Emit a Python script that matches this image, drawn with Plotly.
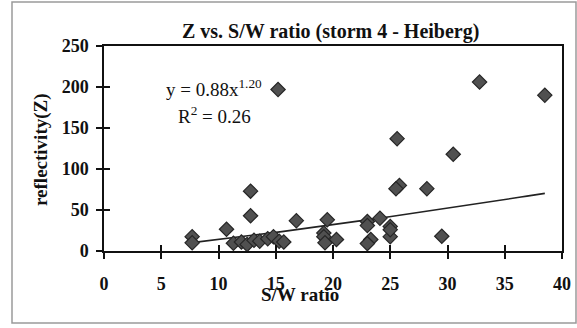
import plotly.graph_objects as go
import numpy as np

sw_ratio = [7.7, 7.7, 10.7, 12.8, 12.8, 15.2, 11.3, 12.0, 12.5, 13.1, 13.6, 14.3, 14.8, 15.3, 15.7,
            16.8, 19.5, 19.2, 19.2, 19.3, 20.3, 23.0, 23.0, 23.3, 23.0, 24.1, 25.0, 25.0, 25.0,
            25.6, 25.8, 25.5, 28.2, 29.5, 30.5, 32.8, 38.5]
reflectivity = [17.5, 10, 26.5, 73, 43, 197, 9.5, 11, 8, 13, 12, 15, 17.5, 12, 11,
                37, 38, 22, 17.5, 10, 14, 36, 31, 14, 9, 40, 30, 17.5, 26,
                137, 80, 76, 76, 18, 118, 206, 190]
fit_a = 0.88
fit_b = 1.20
fit_range = [7.7, 38.5]
x_ticks = [0, 5, 10, 15, 20, 25, 30, 35, 40]
y_ticks = [0, 50, 100, 150, 200, 250]

xf = np.linspace(fit_range[0], fit_range[1], 60)
yf = fit_a * xf ** fit_b

serif = "Liberation Serif, Times New Roman, serif"
ink = "#111111"
fig = go.Figure()
fig.add_trace(go.Scatter(x=xf, y=yf, mode="lines", line=dict(color="#222", width=1.6),
                         showlegend=False, hoverinfo="skip"))
fig.add_trace(go.Scatter(x=sw_ratio, y=reflectivity, mode="markers",
                         marker=dict(symbol="diamond", size=11, color="#505050",
                                     line=dict(color="#262626", width=1.2)),
                         showlegend=False))

axis_common = dict(showgrid=False, zeroline=False, linecolor=ink, linewidth=1.5,
                   ticks="outside", ticklen=6, tickwidth=1.5, tickcolor=ink, mirror=True,
                   automargin=False,
                   tickfont=dict(family=serif, size=18, color=ink, weight="bold"))
fig.update_layout(
    width=577, height=328, autosize=False, plot_bgcolor="white", paper_bgcolor="white",
    margin=dict(l=104, r=15, t=46, b=77, autoexpand=False),
    xaxis=dict(range=[0, 40], tickvals=x_ticks, ticklabelstandoff=10, **axis_common),
    yaxis=dict(range=[0, 250], tickvals=y_ticks, ticklabelstandoff=4, **axis_common),
    xaxis2=dict(range=[0, 40], tickvals=x_ticks, overlaying="x", showticklabels=False,
                ticks="inside", ticklen=6, tickwidth=1.5, tickcolor=ink, showgrid=False,
                zeroline=False, showline=False, anchor="y"),
    yaxis2=dict(range=[0, 250], tickvals=y_ticks, overlaying="y", showticklabels=False,
                ticks="inside", ticklen=6, tickwidth=1.5, tickcolor=ink, showgrid=False,
                zeroline=False, showline=False, anchor="x"),
    font=dict(family=serif, color=ink),
    showlegend=False,
)
fig.add_trace(go.Scatter(x=[None], y=[None], xaxis="x2", yaxis="y2", showlegend=False))


def px_x(px):
    return (px - 104) / 458


def px_y(py):
    return (251 - py) / 205


def note(text, x, y, size, bold=False, angle=0):
    fig.add_annotation(text=text, xref="paper", yref="paper", x=px_x(x), y=px_y(y),
                       xanchor="center", yanchor="middle", showarrow=False, textangle=angle,
                       font=dict(family=serif, size=size, color=ink,
                                 weight="bold" if bold else "normal"))


note("Z vs. S/W ratio (storm 4 - Heiberg)", 330, 32, 20, bold=True)
note("S/W ratio", 300, 294, 19, bold=True)
note("reflectivity(Z)", 41, 150, 19, bold=True, angle=-90)
note("y = 0.88x<sup>1.20</sup>", 214, 88, 19)
note("R<sup>2</sup> = 0.26", 214, 115, 19)

fig.add_shape(type="rect", xref="paper", yref="paper",
              x0=px_x(12), x1=px_x(576), y0=px_y(323), y1=px_y(2),
              line=dict(color="#9a9a9a", width=1.5), layer="below")

fig.write_html("out.html")
